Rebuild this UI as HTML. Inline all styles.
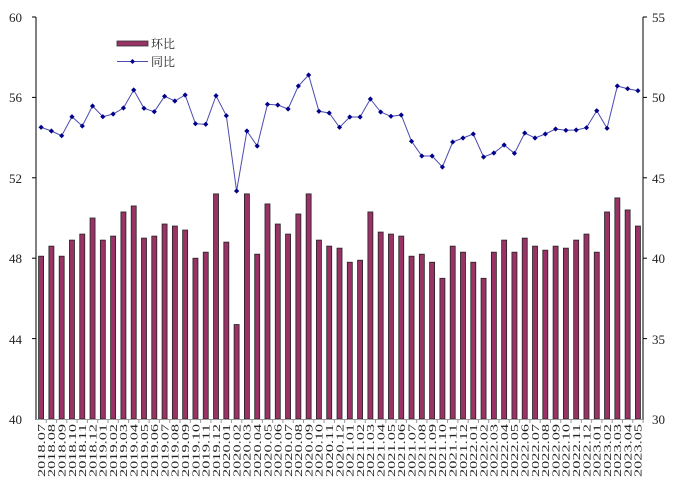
<!DOCTYPE html>
<html><head><meta charset="utf-8"><style>
body{margin:0;background:#fff;}
svg{display:block;}
text{font-family:"Liberation Serif","Noto Serif CJK SC",serif;fill:#222;}
</style></head><body>
<svg id="s" width="678" height="481" viewBox="0 0 678 481" xmlns="http://www.w3.org/2000/svg">
<g id="bars"></g>
<polyline id="ln" fill="none" stroke="#4b4bb0" stroke-width="1"/>
<g id="pts"></g>
<line x1="36" y1="17" x2="36" y2="420" stroke="#000"/>
<line x1="643" y1="17" x2="643" y2="420" stroke="#000"/>
<line x1="36" y1="419.5" x2="643" y2="419.5" stroke="#999"/>
<g stroke="#000">
<line x1="32" y1="17" x2="36" y2="17"/><line x1="32" y1="97.4" x2="36" y2="97.4"/><line x1="32" y1="177.8" x2="36" y2="177.8"/><line x1="32" y1="258.2" x2="36" y2="258.2"/><line x1="32" y1="338.6" x2="36" y2="338.6"/>
<line x1="643" y1="17" x2="647" y2="17"/><line x1="643" y1="97.4" x2="647" y2="97.4"/><line x1="643" y1="177.8" x2="647" y2="177.8"/><line x1="643" y1="258.2" x2="647" y2="258.2"/><line x1="643" y1="338.6" x2="647" y2="338.6"/>
</g>
<g font-size="13" text-anchor="end">
<text x="22" y="22">60</text><text x="22" y="102">56</text><text x="22" y="183">52</text><text x="22" y="263">48</text><text x="22" y="344">44</text><text x="22" y="424">40</text>
</g>
<g font-size="13" text-anchor="start">
<text x="652" y="22">55</text><text x="652" y="102">50</text><text x="652" y="183">45</text><text x="652" y="263">40</text><text x="652" y="344">35</text><text x="652" y="424">30</text>
</g>
<rect x="117" y="41" width="31" height="5" fill="#993366" stroke="#333" stroke-width="0.8"/>
<text x="151" y="48" font-size="12" font-family="Liberation Sans,'Noto Sans CJK SC',sans-serif">环比</text>
<line x1="117" y1="61.5" x2="148" y2="61.5" stroke="#4b4bb0"/>
<path d="M132.5 59 L135 61.5 L132.5 64 L130 61.5Z" fill="#00008b"/>
<text x="151" y="66" font-size="12" font-family="Liberation Sans,'Noto Sans CJK SC',sans-serif">同比</text>
<g id="lbl" font-size="11" text-anchor="end">
<text>2018.07</text><text>2018.08</text><text>2018.09</text><text>2018.10</text><text>2018.11</text><text>2018.12</text>
<text>2019.01</text><text>2019.02</text><text>2019.03</text><text>2019.04</text><text>2019.05</text><text>2019.06</text><text>2019.07</text><text>2019.08</text><text>2019.09</text><text>2019.10</text><text>2019.11</text><text>2019.12</text>
<text>2020.01</text><text>2020.02</text><text>2020.03</text><text>2020.04</text><text>2020.05</text><text>2020.06</text><text>2020.07</text><text>2020.08</text><text>2020.09</text><text>2020.10</text><text>2020.11</text><text>2020.12</text>
<text>2021.01</text><text>2021.02</text><text>2021.03</text><text>2021.04</text><text>2021.05</text><text>2021.06</text><text>2021.07</text><text>2021.08</text><text>2021.09</text><text>2021.10</text><text>2021.11</text><text>2021.12</text>
<text>2022.01</text><text>2022.02</text><text>2022.03</text><text>2022.04</text><text>2022.05</text><text>2022.06</text><text>2022.07</text><text>2022.08</text><text>2022.09</text><text>2022.10</text><text>2022.11</text><text>2022.12</text>
<text>2023.01</text><text>2023.02</text><text>2023.03</text><text>2023.04</text><text>2023.05</text>
</g>
</svg>
<script>
var b=[48.1,48.6,48.1,48.9,49.2,50.0,48.9,49.1,50.3,50.6,49.0,49.1,49.7,49.6,49.4,48.0,48.3,51.2,48.8,44.7,51.2,48.2,50.7,49.7,49.2,50.2,51.2,48.9,48.6,48.5,47.8,47.9,50.3,49.3,49.2,49.1,48.1,48.2,47.8,47.0,48.6,48.3,47.8,47.0,48.3,48.9,48.3,49.0,48.6,48.4,48.6,48.5,48.9,49.2,48.3,50.3,51.0,50.4,49.6];
var p=[127.3,131,135.7,116.7,126,106,116.7,114,108,90,108.3,111.7,96.3,101,95,123.7,124.3,95.7,115.7,191,131,146,104.3,105,109,86,75,111.3,113,127.3,117,117,99,112,116.3,115,141.3,156,156,167,142,138,134,157,153,145,153.3,133,138,134,129,130.3,130,127.7,110.7,128.3,86,88.7,90.7];
var NS="http://www.w3.org/2000/svg",g=document.getElementById('bars'),pg=document.getElementById('pts'),pts=[];
var L=document.getElementById('lbl').children;
for(var i=0;i<59;i++){var cx=41.1+10.29*i;var y=419-(b[i]-40)*20.1;
var r=document.createElementNS(NS,'rect');r.setAttribute('x',cx-2.5);r.setAttribute('y',y);r.setAttribute('width',5);r.setAttribute('height',419-y);r.setAttribute('fill','#993366');r.setAttribute('stroke','#222');r.setAttribute('stroke-width','0.8');g.appendChild(r);
pts.push(cx+','+p[i]);
var c=document.createElementNS(NS,'path');var q=p[i];c.setAttribute('d','M'+cx+' '+(q-2.6)+' L'+(cx+2.6)+' '+q+' L'+cx+' '+(q+2.6)+' L'+(cx-2.6)+' '+q+'Z');c.setAttribute('fill','#00008b');pg.appendChild(c);
var t=document.createElementNS(NS,'line');t.setAttribute('x1',cx+5.15);t.setAttribute('x2',cx+5.15);t.setAttribute('y1',420);t.setAttribute('y2',423);t.setAttribute('stroke','#999');g.appendChild(t);
L[i].setAttribute('transform','translate('+(cx+3.8)+',424) rotate(-90)');L[i].setAttribute('textLength','53');L[i].setAttribute('lengthAdjust','spacingAndGlyphs');}
document.getElementById('ln').setAttribute('points',pts.join(' '));
</script>
</body></html>
